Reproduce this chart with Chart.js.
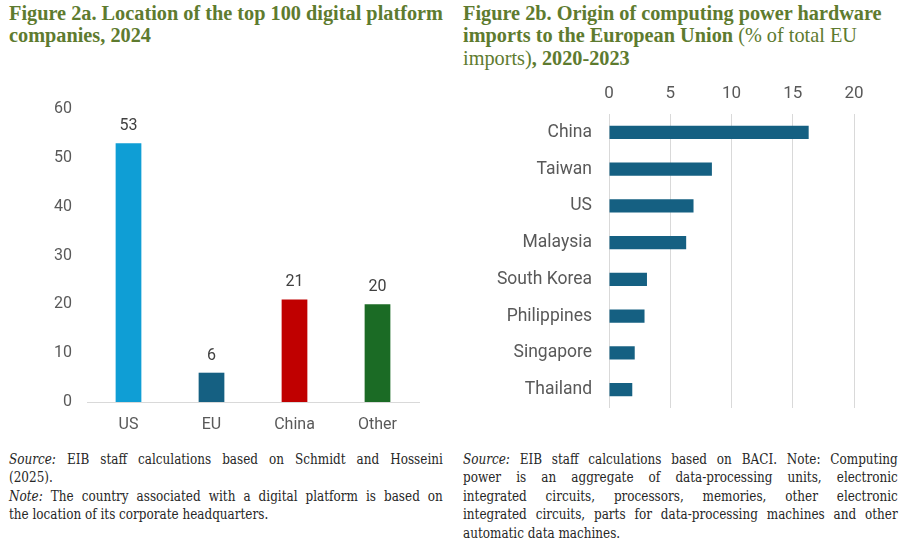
<!DOCTYPE html>
<html>
<head>
<meta charset="utf-8">
<script src="https://cdn.jsdelivr.net/npm/chart.js@4.4.1/dist/chart.umd.min.js"></script>
<style>
  body { margin: 0; background: #fff; width: 910px; height: 544px; position: relative; overflow: hidden; }
  .title { position: absolute; font-family: "Liberation Serif", serif; font-size: 20.3px; line-height: 22.5px;
           color: #5E7B2F; white-space: nowrap; }
  .title b { font-weight: bold; }
  /* squeezed serif to mimic the condensed footnote face */
  .note { position: absolute; font-family: "DejaVu Serif Condensed", "DejaVu Serif", serif; font-stretch: condensed;
          font-size: 15.2px; line-height: 18.5px; color: #262626; transform: scaleX(0.88); transform-origin: 0 0; }
  .note div { text-align: justify; text-align-last: justify; white-space: nowrap; }
  .note div.last { text-align-last: left; }
  canvas { position: absolute; }
</style>
</head>
<body>
<div class="title" style="left:9px; top:1.5px;"><b>Figure 2a. Location of the top 100 digital platform<br>companies, 2024</b></div>
<div class="title" style="left:463px; top:1.5px;"><b>Figure 2b. Origin of computing power hardware<br>imports to the European Union</b> (% of total EU<br>imports)<b>, 2020-2023</b></div>

<canvas id="leftChart" width="440" height="355" style="left:0; top:91px;"></canvas>
<canvas id="rightChart" width="455" height="345" style="left:455px; top:70px;"></canvas>

<div class="note" style="left:9px; top:449.5px; width:493px;">
  <div><i>Source:</i> EIB staff calculations based on Schmidt and Hosseini</div>
  <div class="last">(2025).</div>
  <div><i>Note:</i> The country associated with a digital platform is based on</div>
  <div class="last">the location of its corporate headquarters.</div>
</div>
<div class="note" style="left:463px; top:449.5px; width:494px;">
  <div><i>Source:</i> EIB staff calculations based on BACI. Note: Computing</div>
  <div>power is an aggregate of data-processing units, electronic</div>
  <div>integrated circuits, processors, memories, other electronic</div>
  <div>integrated circuits, parts for data-processing machines and other</div>
  <div class="last">automatic data machines.</div>
</div>

<script>
// Figure 2a data
const platformRegions = ['US', 'EU', 'China', 'Other'];
const platformCounts = [53, 6, 21, 20];
const platformColors = ['#0F9ED5', '#156082', '#C00000', '#1B6B25'];

// Figure 2b data
const importOrigins = ['China', 'Taiwan', 'US', 'Malaysia', 'South Korea', 'Philippines', 'Singapore', 'Thailand'];
const importShares = [16.3, 8.4, 6.9, 6.3, 3.1, 2.9, 2.1, 1.9];

const tickGrey = '#595959';
const fontFamily = 'Roboto, "Open Sans", sans-serif';

// draws the number above each bar (no datalabels plugin offline)
const valueLabels = {
    id: 'valueLabels',
    afterDatasetsDraw(chart) {
        const ctx = chart.ctx;
        const meta = chart.getDatasetMeta(0);
        ctx.save();
        ctx.font = '16px ' + fontFamily;
        ctx.fillStyle = '#404040';
        ctx.textAlign = 'center';
        ctx.textBaseline = 'middle';
        meta.data.forEach((bar, i) => {
            ctx.fillText(chart.data.datasets[0].data[i], bar.x, bar.y - 17);
        });
        ctx.restore();
    }
};

// fixed axis sizes so the plot area lands where it should
function fixWidth(w) {
    return scale => {
        scale.width = w;
        scale.paddingTop = 0;
        scale.paddingBottom = 0;
    };
}
function fixHeight(h) {
    return scale => {
        scale.height = h;
        scale.paddingLeft = 0;
        scale.paddingRight = 0;
    };
}

new Chart(document.getElementById('leftChart'), {
    type: 'bar',
    data: {
        labels: platformRegions,
        datasets: [{
            data: platformCounts,
            backgroundColor: platformColors,
            categoryPercentage: 1,
            barPercentage: 0.31
        }]
    },
    options: {
        responsive: false,
        animation: false,
        layout: { padding: { top: 18, right: 21, left: 0, bottom: 0 } },
        plugins: { legend: { display: false }, tooltip: { enabled: false } },
        scales: {
            x: {
                grid: { display: false, drawTicks: false },
                border: { display: true, color: '#D9D9D9', width: 1 },
                ticks: { color: tickGrey, font: { size: 16, family: fontFamily }, padding: 13 },
                afterFit: fixHeight(44)
            },
            y: {
                min: 0,
                max: 60,
                grid: { display: false, drawTicks: false },
                border: { display: false },
                ticks: { stepSize: 10, color: tickGrey, font: { size: 16, family: fontFamily }, padding: 15 },
                afterFit: fixWidth(87)
            }
        }
    },
    plugins: [valueLabels]
});

new Chart(document.getElementById('rightChart'), {
    type: 'bar',
    data: {
        labels: importOrigins,
        datasets: [{
            data: importShares,
            backgroundColor: '#156082',
            categoryPercentage: 1,
            barPercentage: 0.36
        }]
    },
    options: {
        indexAxis: 'y',
        responsive: false,
        animation: false,
        layout: { padding: { top: 0, right: 56, left: 0, bottom: 7 } },
        plugins: { legend: { display: false }, tooltip: { enabled: false } },
        scales: {
            x: {
                position: 'top',
                min: 0,
                max: 20,
                grid: { color: '#D9D9D9', drawTicks: false },
                border: { display: false },
                ticks: { stepSize: 5, color: tickGrey, font: { size: 17, family: fontFamily }, padding: 10 },
                afterFit: fixHeight(44)
            },
            y: {
                grid: { display: false, drawTicks: false },
                border: { display: false },
                ticks: { color: tickGrey, font: { size: 17.5, family: fontFamily }, padding: 17 },
                afterFit: fixWidth(154)
            }
        }
    }
});
</script>
</body>
</html>
